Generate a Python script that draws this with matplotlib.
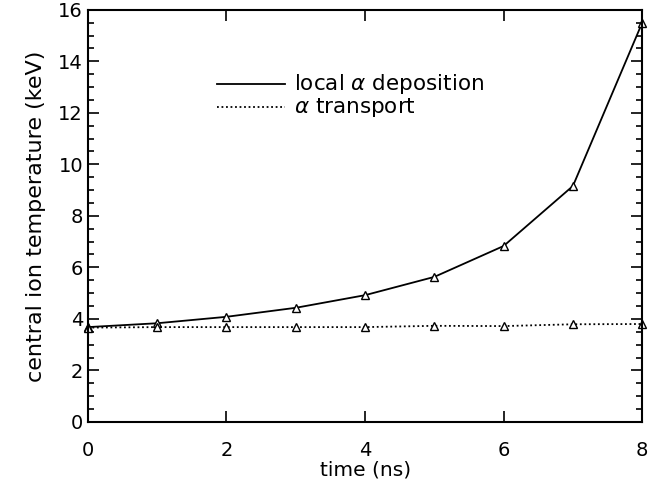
import matplotlib
matplotlib.use("Agg")
import matplotlib.pyplot as plt
from matplotlib.ticker import MultipleLocator, NullLocator

# time (ns) and central ion temperature (keV)
time_ns = [0, 1, 2, 3, 4, 5, 6, 7, 8]
local_dep = [3.68, 3.83, 4.08, 4.43, 4.92, 5.63, 6.83, 9.16, 15.5]
transport = [3.66, 3.68, 3.68, 3.68, 3.68, 3.73, 3.72, 3.79, 3.80]

plt.rcParams['font.family'] = ['DejaVu Sans']

fig = plt.figure(figsize=(6.56, 4.90), dpi=100)
ax = fig.add_axes([0.134, 0.139, 0.845, 0.841])

ax.plot(time_ns, local_dep, color='black', lw=1.3, marker='^', ms=6,
        mfc='white', mec='black', mew=1.0, clip_on=False)
ax.plot(time_ns, transport, color='black', lw=1.3, ls=(0, (1, 1.5)),
        marker='^', ms=6, mfc='white', mec='black', mew=1.0, clip_on=False)

ax.set_xlim(0, 8)
ax.set_ylim(0, 16)
ax.xaxis.set_major_locator(MultipleLocator(2))
ax.xaxis.set_minor_locator(NullLocator())
ax.yaxis.set_major_locator(MultipleLocator(2))
ax.yaxis.set_minor_locator(MultipleLocator(0.5))
ax.tick_params(which='both', direction='in', top=True, right=True,
               labelsize=14, width=1.2)
ax.tick_params(which='major', length=8)
ax.tick_params(which='minor', length=4)
ax.tick_params(axis='x', pad=14)
for s in ax.spines.values():
    s.set_linewidth(1.5)

ax.set_xlabel('time (ns)', fontsize=14.5, labelpad=0)
ax.set_ylabel('central ion temperature (keV)', fontsize=16, labelpad=9)

# legend drawn by hand in axes coordinates
ax.plot([0.232, 0.355], [0.82, 0.82], transform=ax.transAxes, color='black', lw=1.3)
ax.plot([0.232, 0.355], [0.764, 0.764], transform=ax.transAxes, color='black',
        lw=1.3, ls=(0, (1, 1.5)))
ax.text(0.372, 0.82, r'local $\alpha$ deposition', transform=ax.transAxes,
        fontsize=15.5, va='center')
ax.text(0.372, 0.764, r'$\alpha$ transport', transform=ax.transAxes,
        fontsize=15.5, va='center')

fig.savefig('out.png', dpi=100)
